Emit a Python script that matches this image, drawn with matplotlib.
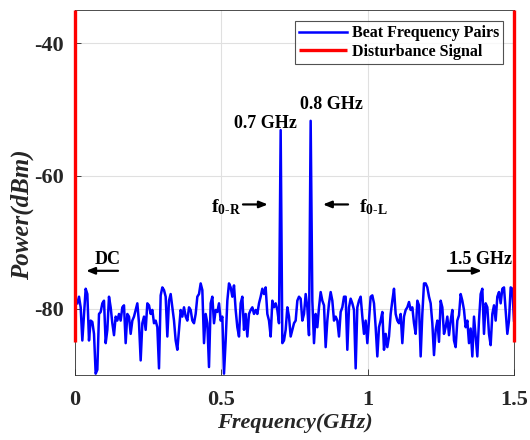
import numpy as np
import matplotlib
matplotlib.use("Agg")
import matplotlib.pyplot as plt

# ---------------- data ----------------
# Beat-frequency spectrum (dBm), read left to right from the picture
noise_a = [-79.2, -78.2, -79.8, -84.8, -80.8, -77.0, -77.8, -84.8, -81.8, -82.0,
           -83.8, -89.8, -89.2, -80.8, -80.5, -79.2, -78.8, -85.2, -83.2, -78.2,
           -79.8, -82.2, -84.0, -81.2, -81.8, -80.8, -81.8, -79.8, -79.5, -85.2,
           -80.8, -81.2, -83.8, -81.8, -81.2, -80.2, -79.2, -82.2, -87.8, -82.2,
           -81.2, -83.2, -79.2]
noise_b = [-79.5, -80.8, -80.2, -82.2, -81.8, -82.8, -89.0, -78.0, -76.8, -77.2,
           -78.2, -84.2, -78.8, -77.8, -79.8, -81.8, -84.8, -86.2, -83.2, -80.2,
           -81.2, -79.8, -81.2, -81.8, -79.8, -80.2, -81.8, -82.2, -80.8, -78.2,
           -77.8, -76.2, -77.2, -85.2, -80.8, -82.2, -88.8, -79.2, -78.2, -82.2,
           -80.2, -80.5, -79.2, -81.8]
noise_c = [-81.2, -89.8, -84.8, -78.8, -76.2, -76.8, -78.2, -76.5, -80.2, -82.8,
           -84.2, -79.2, -78.2, -83.2, -80.8, -84.2, -80.8, -80.2, -79.8, -80.8,
           -80.2, -80.8, -79.2, -78.2, -77.0, -77.8, -76.8, -80.8, -81.8, -84.2,
           -78.8, -79.8, -79.2, -80.2, -82.2, -53.1, -85.2, -84.8, -83.2, -79.8,
           -81.2, -84.2, -83.2, -82.2]
noise_d = [-81.8, -78.8, -78.2, -78.5, -81.8, -80.8, -77.8, -79.8, -84.0, -51.7,
           -78.8, -85.2, -80.8, -82.8, -79.8, -77.5, -78.8, -79.5, -85.8, -81.8,
           -79.2, -77.5, -78.8, -81.8, -81.2, -81.8, -84.2, -80.5, -79.8, -78.2,
           -78.2, -86.2, -79.8, -78.5, -79.2, -80.2, -89.0, -79.8, -78.8, -78.2,
           -81.2, -83.8, -81.8, -85.2]
noise_e = [-81.8, -78.2, -78.0, -79.2, -82.8, -87.2, -82.8, -81.8, -80.5, -86.2,
           -83.8, -85.8, -84.2, -80.8, -78.8, -77.0, -80.8, -81.8, -82.2, -80.8,
           -85.2, -81.2, -80.2, -79.8, -79.0, -80.2, -79.8, -82.2, -83.8, -78.8,
           -79.5, -87.2, -80.8, -76.2, -76.2, -76.8, -78.2, -79.2, -82.2, -87.0,
           -83.2, -81.8, -85.0, -78.8]
noise_f = [-79.8, -83.8, -82.8, -81.2, -84.0, -81.8, -80.2, -84.8, -85.8, -81.8,
           -81.0, -77.8, -78.8, -80.2, -82.8, -81.8, -85.2, -83.0, -87.2, -81.2,
           -84.2, -87.2, -81.8, -77.8, -77.0, -83.8, -79.2, -79.8, -83.8, -85.5,
           -80.8, -79.5, -81.8, -78.2, -77.5, -79.2, -77.0, -76.8, -80.2, -83.8,
           -81.8, -76.8, -77.0, -81.8]
beat_power = noise_a + noise_b + noise_c + noise_d + noise_e + noise_f
beat_freq = np.linspace(0.008, 1.5, len(beat_power))

# Disturbance signal: vertical lines at DC and 1.5 GHz (clipped at the top)
dist_freq = [0.0, 0.0, np.nan, 1.5, 1.5]
dist_power = [-85.0, -35.0, np.nan, -85.0, -35.0]

x_ticks = [0, 0.5, 1, 1.5]
x_tick_labels = ["0", "0.5", "1", "1.5"]
y_ticks = [-80, -60, -40]
y_tick_labels = ["-80", "-60", "-40"]

# ---------------- style ----------------
serif = "Liberation Serif"
plt.rcParams["font.family"] = [serif, "DejaVu Serif"]
plt.rcParams["font.weight"] = "bold"
plt.rcParams["mathtext.fontset"] = "custom"
plt.rcParams["mathtext.rm"] = "Liberation Serif:bold"
plt.rcParams["mathtext.bf"] = "Liberation Serif:bold"
plt.rcParams["mathtext.it"] = "Liberation Serif:bold:italic"

fig = plt.figure(figsize=(5.3, 4.4), dpi=100)
ax = fig.add_axes([0.1415, 0.1477, 0.8283, 0.8296])

ax.plot(beat_freq, beat_power, color="#0000ff", lw=1.8, label="Beat Frequency Pairs",
        solid_joinstyle="round", zorder=3)
ax.plot(dist_freq, dist_power, color="#ff0000", lw=2.4, label="Disturbance Signal",
        zorder=5, clip_on=False, solid_capstyle="butt")

ax.set_xlim(0, 1.5)
ax.set_ylim(-90, -35)
ax.set_xticks(x_ticks)
ax.set_xticklabels(x_tick_labels)
ax.set_yticks(y_ticks)
ax.set_yticklabels(y_tick_labels)
ax.tick_params(direction="in", length=4, width=0.6, labelsize=16, colors="#262626")
ax.tick_params(axis="x", pad=11)
ax.tick_params(axis="y", pad=8)
for lab in ax.get_xticklabels() + ax.get_yticklabels():
    lab.set_fontweight("bold")
ax.grid(True, color="#e0e0e0", lw=0.8)
ax.set_axisbelow(True)
for sp in ax.spines.values():
    sp.set_color("#303030")
    sp.set_linewidth(0.6)

ax.set_xlabel("Frequency(GHz)", fontsize=16, fontweight="bold", fontstyle="italic",
              color="#262626", labelpad=2)
ax.set_ylabel("Power(dBm)", fontsize=18, fontweight="bold", fontstyle="italic",
              color="#262626")
ax.yaxis.set_label_coords(-0.093, 0.44)

leg = ax.legend(loc="upper right", fontsize=11.5, frameon=True, fancybox=False,
                borderaxespad=0.7, handlelength=3.0, handletextpad=0.3,
                borderpad=0.25, labelspacing=0.15)
leg.get_frame().set_edgecolor("#262626")
leg.get_frame().set_linewidth(0.8)
leg.set_zorder(6)
for t in leg.get_texts():
    t.set_fontweight("bold")

# annotations
ax.text(0.652, -52.1, "0.7 GHz", fontsize=13, fontweight="bold", ha="center", va="center")
ax.text(0.875, -49.3, "0.8 GHz", fontsize=13, fontweight="bold", ha="center", va="center")
ax.text(0.516, -64.7, r"$\mathrm{f}_{\mathrm{0\text{-}R}}$", fontsize=14, ha="center", va="center")
ax.text(1.02, -64.7, r"$\mathrm{f}_{\mathrm{0\text{-}L}}$", fontsize=14, ha="center", va="center")
ax.text(0.113, -72.6, "DC", fontsize=13, fontweight="bold", ha="center", va="center")
ax.text(1.384, -72.6, "1.5 GHz", fontsize=13, fontweight="bold", ha="center", va="center")

arrow = dict(arrowstyle="-|>,head_length=0.5,head_width=0.2", color="black", lw=1.6,
             shrinkA=0, shrinkB=0)
ax.annotate("", xy=(0.659, -64.3), xytext=(0.574, -64.3), arrowprops=arrow)
ax.annotate("", xy=(0.847, -64.3), xytext=(0.933, -64.3), arrowprops=arrow)
ax.annotate("", xy=(0.038, -74.3), xytext=(0.147, -74.3), arrowprops=arrow)
ax.annotate("", xy=(1.39, -74.3), xytext=(1.274, -74.3), arrowprops=arrow)

fig.savefig("out.png", dpi=100)
